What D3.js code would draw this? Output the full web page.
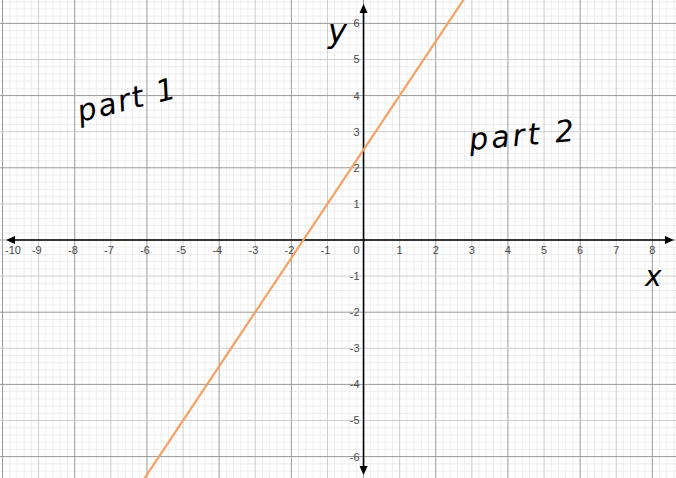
<!DOCTYPE html>
<html><head><meta charset="utf-8">
<script src="https://cdn.jsdelivr.net/npm/d3@7"></script>
<style>html,body{margin:0;padding:0;background:#fff;overflow:hidden}</style>
</head><body>
<svg id="c" width="676" height="478"></svg>
<script>
// Data
const xTicks = [-10,-9,-8,-7,-6,-5,-4,-3,-2,-1,1,2,3,4,5,6,7,8];
const yTicks = [-6,-5,-4,-3,-2,-1,1,2,3,4,5,6];
const lineSlope = [1.5];
const lineIntercept = [2.5];
const annotations = ["part 1", "part 2"];
const axisNames = ["y", "x"];

const W = 676, H = 478;
const x = d3.scaleLinear().domain([-10.07, 8.655]).range([0, W]);
const y = d3.scaleLinear().domain([6.648, -6.593]).range([0, H]);
const svg = d3.select("#c");

// grid
const minor = d3.range(-10.2, 8.81, 0.2).map(v => Math.round(v*5)/5);
const minorY = d3.range(-6.8, 6.81, 0.2).map(v => Math.round(v*5)/5);
const g = svg.append("g");
const isInt = v => Math.abs(v - Math.round(v)) < 1e-6;
g.selectAll(".mx").data(minor.filter(v => !isInt(v))).join("line")
  .attr("x1", d => x(d)).attr("x2", d => x(d)).attr("y1", 0).attr("y2", H)
  .attr("stroke", "#ededed").attr("stroke-width", 1);
g.selectAll(".my").data(minorY.filter(v => !isInt(v))).join("line")
  .attr("y1", d => y(d)).attr("y2", d => y(d)).attr("x1", 0).attr("x2", W)
  .attr("stroke", "#ededed").attr("stroke-width", 1);
const intX = d3.range(-10, 9), intY = d3.range(-6, 7);
const majColor = d => (Math.abs(d) % 2 === 0) ? "#9a9a9a" : "#cdcdcd";
g.selectAll(".Mx").data(intX).join("line")
  .attr("x1", d => x(d)).attr("x2", d => x(d)).attr("y1", 0).attr("y2", H)
  .attr("stroke", majColor).attr("stroke-width", 1);
g.selectAll(".My").data(intY).join("line")
  .attr("y1", d => y(d)).attr("y2", d => y(d)).attr("x1", 0).attr("x2", W)
  .attr("stroke", majColor).attr("stroke-width", 1);

// axes
const ax = svg.append("g");
const y0 = y(0), x0 = x(0);
ax.append("line").attr("x1", 12).attr("x2", 668).attr("y1", y0).attr("y2", y0)
  .attr("stroke", "#000").attr("stroke-width", 1.6);
ax.append("line").attr("x1", x0).attr("x2", x0).attr("y1", 10).attr("y2", 470)
  .attr("stroke", "#000").attr("stroke-width", 1.6);
ax.append("path").attr("d", `M6,${y0} L15,${y0-4} L15,${y0+4} Z`).attr("fill", "#000");
ax.append("path").attr("d", `M674,${y0} L665,${y0-4} L665,${y0+4} Z`).attr("fill", "#000");
ax.append("path").attr("d", `M${x0},4 L${x0-4},13 L${x0+4},13 Z`).attr("fill", "#000");
ax.append("path").attr("d", `M${x0},475 L${x0-4},466 L${x0+4},466 Z`).attr("fill", "#000");

// tick labels
const lab = svg.append("g").attr("font-family", "Liberation Sans, Arial, sans-serif")
  .attr("font-size", 11).attr("fill", "#4a4a4a");
const dw = 6.1;
lab.selectAll(".xl").data(xTicks).join("text")
  .attr("x", d => Math.max(x(d) + String(Math.abs(d)).length * dw / 2, 21))
  .attr("y", y0 + 14).attr("text-anchor", "end")
  .text(d => d);
lab.selectAll(".yl").data(yTicks).join("text")
  .attr("x", x0 - 4).attr("y", d => y(d) + 4).attr("text-anchor", "end")
  .text(d => d);
lab.append("text").attr("x", x0 - 4).attr("y", y0 + 14).attr("text-anchor", "end").text(0);

// line
const line = d3.line().x(d => x(d)).y(d => y(lineSlope[0]*d + lineIntercept[0]));
svg.append("path").datum([-6.4, 3])
  .attr("d", line).attr("stroke", "#f7a060").attr("stroke-width", 2.2).attr("fill", "none");

// handwritten-like annotations
const hw = svg.append("g").attr("font-family", "DejaVu Sans, sans-serif").attr("fill", "#000");
hw.append("text").attr("transform", "translate(80,122) rotate(-14)")
  .attr("font-size", 30).attr("letter-spacing", 2).attr("font-style", "italic").text(annotations[0]);
hw.append("text").attr("transform", "translate(470,150) rotate(-5)")
  .attr("font-size", 30).attr("letter-spacing", 3).attr("font-style", "italic").text(annotations[1]);
hw.append("text").attr("x", 328).attr("y", 42).attr("font-size", 32).attr("font-style", "italic").text(axisNames[0]);
hw.append("text").attr("x", 645).attr("y", 286).attr("font-size", 28).attr("font-style", "italic").text(axisNames[1]);
</script>
</body></html>
